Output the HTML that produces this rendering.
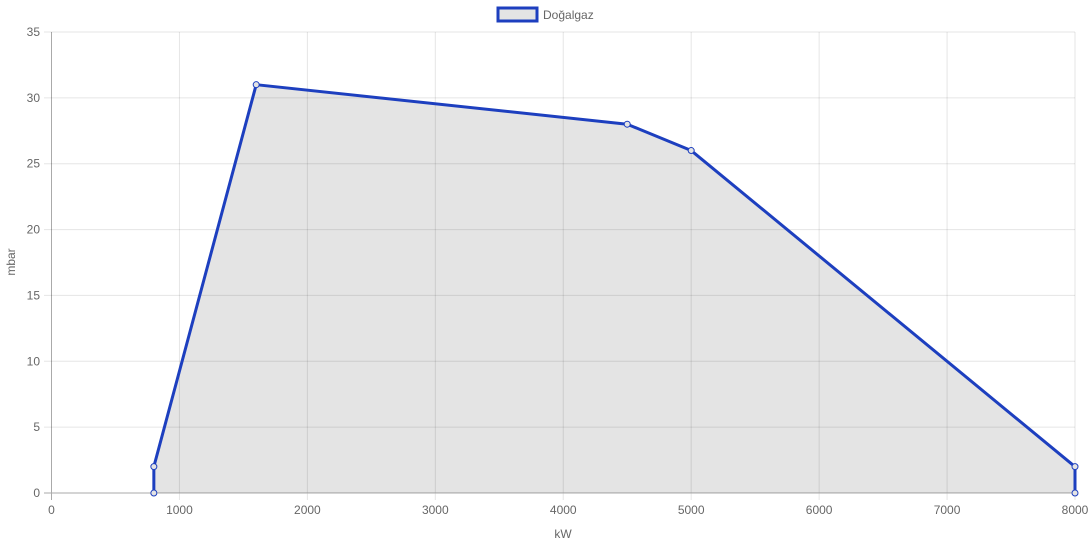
<!DOCTYPE html>
<html><head><meta charset="utf-8"><style>
body{margin:0;background:#fff;}
svg{display:block;font-family:"Liberation Sans",sans-serif;}
</style></head><body>
<svg id="c" width="1092" height="546">
<g>
<rect x="498" y="8" width="39" height="13" fill="#e4e4e4" stroke="#1d3fbf" stroke-width="3"/>
<text x="543" y="19" font-size="12" fill="#666">Doğalgaz</text>
</g>
<text x="563" y="538" font-size="12" fill="#666" text-anchor="middle">kW</text>
<text transform="translate(15,262) rotate(-90)" font-size="12" fill="#666" text-anchor="middle">mbar</text>
<g id="grid"></g><g id="series"></g>
</svg>
<script>
const xTicks=[0,1000,2000,3000,4000,5000,6000,7000,8000];
const yTicks=[0,5,10,15,20,25,30,35];
const xVals=[800,800,1600,4500,5000,8000,8000];
const yVals=[0,2,31,28,26,2,0];
const NS="http://www.w3.org/2000/svg";
const X=v=>51.5+v*(1075-51.5)/8000;
const Y=v=>493-v*(493-32)/35;
function mk(t,a,p){const e=document.createElementNS(NS,t);for(const k in a)e.setAttribute(k,a[k]);p.appendChild(e);return e;}
const g=document.getElementById('grid');
xTicks.forEach(t=>{
 const l=mk('line',{x1:X(t),x2:X(t),y1:32,y2:500,stroke:t===0?'#aaa':'rgba(0,0,0,0.1)'},g);
 
 
 const tx=mk('text',{x:X(t),y:514,'font-size':12,fill:'#666','text-anchor':'middle'},g);tx.textContent=t;
 
 
});
yTicks.forEach(t=>{
 const l=mk('line',{x1:44,x2:1075,y1:Y(t),y2:Y(t),stroke:t===0?'#aaa':'rgba(0,0,0,0.1)'},g);
 
 
 const tx=mk('text',{x:40,y:Y(t)+4,'font-size':12,fill:'#666','text-anchor':'end'},g);tx.textContent=t;
 
 
});
const s=document.getElementById('series');
const pts=xVals.map((x,i)=>X(x)+','+Y(yVals[i])).join(' ');
const area=mk('polygon',{points:pts+' '+X(xVals[xVals.length-1])+','+Y(0)+' '+X(xVals[0])+','+Y(0),fill:'rgba(0,0,0,0.105)'},s);


const line=mk('polyline',{points:pts,fill:'none',stroke:'#1d3fbf','stroke-width':3,'stroke-linejoin':'round'},s);


xVals.forEach((x,i)=>{
 const c=mk('circle',{cx:X(x),cy:Y(yVals[i]),r:3,fill:'#e4e4e4',stroke:'#1d3fbf','stroke-width':1},s);
 
 
});
</script>
</body></html>
